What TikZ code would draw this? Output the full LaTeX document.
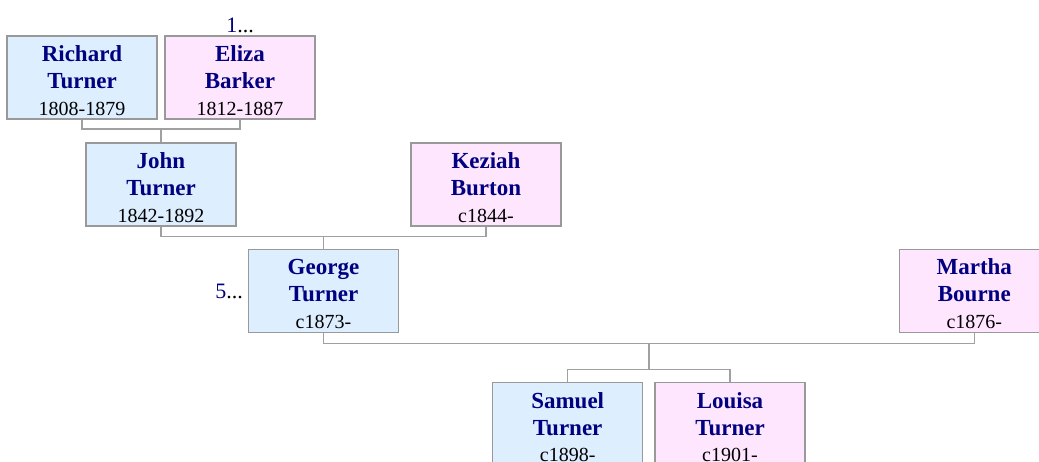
\documentclass[tikz,border=0pt]{standalone}
\usepackage{fontspec}
\setmainfont{Liberation Serif}
\definecolor{navyname}{HTML}{000080}
\definecolor{malefill}{HTML}{DDEEFF}
\definecolor{femalefill}{HTML}{FFE6FF}
\definecolor{boxline}{HTML}{999999}
\definecolor{linkline}{HTML}{A0A0A0}
\newcommand{\nm}[1]{{\fontsize{23}{26.7}\selectfont\textbf{\textcolor{navyname}{#1}}}}
\begin{document}
\begin{tikzpicture}[x=1pt,y=-1pt,
  box/.style={draw=boxline, line width=1.3pt, minimum width=150pt, minimum height=83pt, inner sep=0pt},
  male/.style={box, fill=malefill},
  female/.style={box, fill=femalefill},
  txt/.style={align=center, font=\fontsize{20}{26.7}\selectfont, inner sep=0pt, yshift=-3pt},
  more/.style={font=\fontsize{22}{24}\selectfont, inner sep=0pt},
  link/.style={draw=linkline, line width=1.3pt}]
\useasboundingbox (0,0) rectangle (1039,462);
\clip (0,0) rectangle (1039,462);

% boxes
\node[male]   (richard) at (82,77.5) {};
\node[female] (eliza)   at (240,77.5) {};
\node[male]   (john)    at (161,184.5) {};
\node[female] (keziah)  at (486,184.5) {};
\node[male]   (george)  at (323.5,290.8) {};
\node[female] (martha)  at (974.3,290.8) {};
\node[male]   (samuel)  at (567.7,424.2) {};
\node[female] (louisa)  at (730,424.2) {};

% texts
\node[txt] (richardT) at (richard.center) {\nm{Richard}\\\nm{Turner}\\1808-1879};
\node[txt] (elizaT)   at (eliza.center)   {\nm{Eliza}\\\nm{Barker}\\1812-1887};
\node[txt] (johnT)    at (john.center)    {\nm{John}\\\nm{Turner}\\1842-1892};
\node[txt] (keziahT)  at (keziah.center)  {\nm{Keziah}\\\nm{Burton}\\c1844-};
\node[txt] (georgeT)  at (george.center)  {\nm{George}\\\nm{Turner}\\c1873-};
\node[txt] (marthaT)  at (martha.center)  {\nm{Martha}\\\nm{Bourne}\\c1876-};
\node[txt] (samuelT)  at (samuel.center)  {\nm{Samuel}\\\nm{Turner}\\c1898-};
\node[txt] (louisaT)  at (louisa.center)  {\nm{Louisa}\\\nm{Turner}\\c1901-};

% continuation markers
\node[more] (moreone)  at (240,25) {\textcolor{navyname}{1}...};
\node[more, anchor=east] (morefive) at (243,291.7) {\textcolor{navyname}{5}...};

% couple and child links
\coordinate (c1) at (161,129);
\draw[link] (richard.south) |- (c1) -| (eliza.south);
\draw[link] (c1) -- (john.north);

\coordinate (c2) at (323.5,236.7);
\draw[link] (john.south) |- (c2) -| (keziah.south);
\draw[link] (c2) -- (george.north);

\coordinate (c3) at (649,343.3);
\coordinate (s3) at (649,369.3);
\draw[link] (george.south) |- (c3) -| (martha.south);
\draw[link] (c3) -- (s3);
\draw[link] (samuel.north) |- (s3) -| (louisa.north);
\end{tikzpicture}
\end{document}
